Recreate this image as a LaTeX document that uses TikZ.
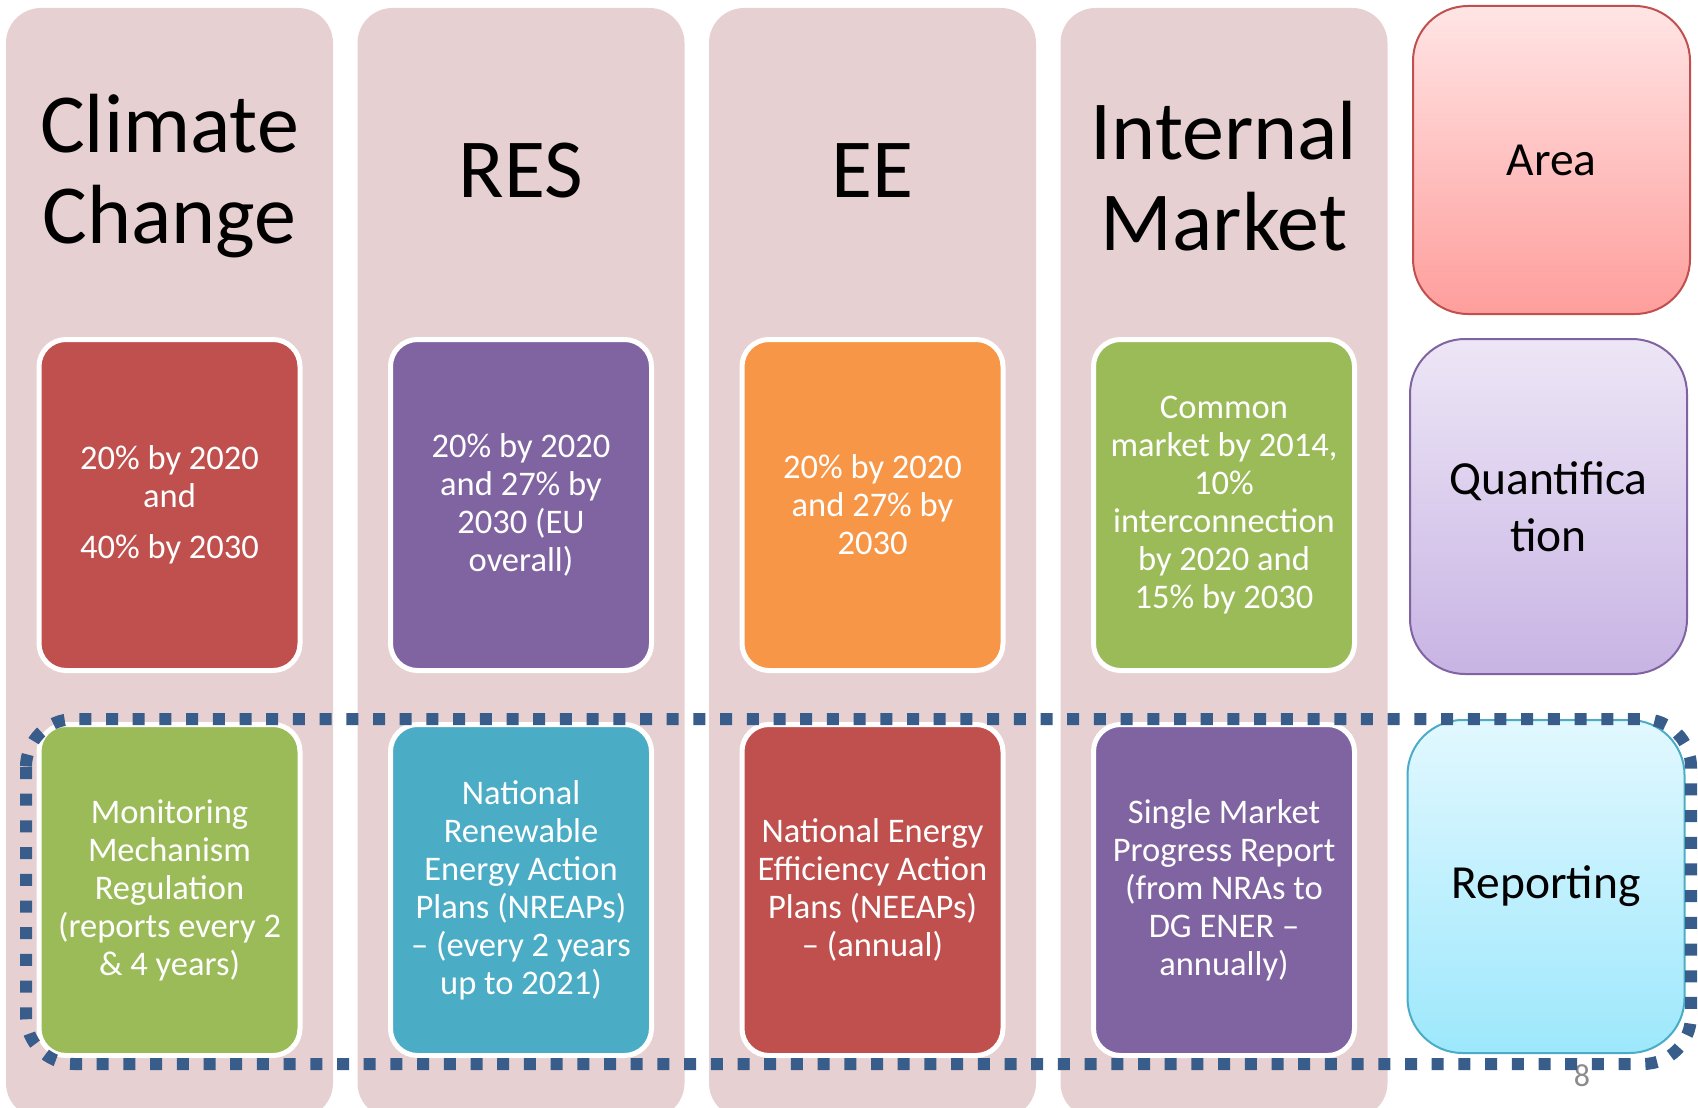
\documentclass[tikz,border=0pt]{standalone}
\usepackage{fontspec}
\setmainfont{Carlito}
\definecolor{colbg}{HTML}{E7D0D1}
\definecolor{cred}{HTML}{C0504D}
\definecolor{cpurple}{HTML}{8064A2}
\definecolor{corange}{HTML}{F79646}
\definecolor{cgreen}{HTML}{9BBB59}
\definecolor{caqua}{HTML}{4BACC6}
\definecolor{dashblue}{HTML}{385D8A}
\begin{document}
\begin{tikzpicture}[x=1pt,y=-1pt,
  colbox/.style={fill=colbg, draw=none, rounded corners=35pt, minimum width=327pt, minimum height=1110pt, inner sep=0pt},
  title/.style={align=center, font=\fontsize{84}{91}\selectfont, text=black},
  tbox/.style={draw=white, line width=5pt, rounded corners=27pt, minimum width=261pt, minimum height=331pt, inner sep=0pt, text=white, align=center, font=\fontsize{34.5}{38}\selectfont},
  legbox/.style={line width=2pt, rounded corners=55pt, minimum width=277pt, inner sep=0pt, align=center, font=\fontsize{47.5}{57}\selectfont, text=black}
]
\useasboundingbox (0,0) rectangle (1698,1108);
\begin{scope}
\clip (0,0) rectangle (1698,1108);
% columns
\node[colbox] (c1) at (169.5,563) {};
\node[colbox] (c2) at (521,563) {};
\node[colbox] (c3) at (872.5,563) {};
\node[colbox] (c4) at (1224,563) {};
\end{scope}
% titles
\node[title] (t1) at (169.5,176) {Climate\\Change};
\node[title] (t2) at (521,171) {RES};
\node[title] (t3) at (872.5,171) {EE};
\node[title] (t4) at (1224,176) {Internal\\Market};
% quantification row
\node[tbox, fill=cred] (q1) at (169.5,505) {20\% by 2020\\and\\[13pt]40\% by 2030};
\node[tbox, fill=cpurple] (q2) at (521,505) {20\% by 2020\\and 27\% by\\2030 (EU\\overall)};
\node[tbox, fill=corange] (q3) at (872.5,505) {20\% by 2020\\and 27\% by\\2030};
\node[tbox, fill=cgreen] (q4) at (1224,505) {Common\\market by 2014,\\10\%\\interconnection\\by 2020 and\\15\% by 2030};
% reporting row
\node[tbox, fill=cgreen] (r1) at (169.5,890) {Monitoring\\Mechanism\\Regulation\\(reports every 2\\\& 4 years)};
\node[tbox, fill=caqua] (r2) at (521,890) {National\\Renewable\\Energy Action\\Plans (NREAPs)\\– (every 2 years\\up to 2021)};
\node[tbox, fill=cred] (r3) at (872.5,890) {National Energy\\Efficiency Action\\Plans (NEEAPs)\\– (annual)};
\node[tbox, fill=cpurple] (r4) at (1224,890) {Single Market\\Progress Report\\(from NRAs to\\DG ENER –\\annually)};
% legend boxes
\node[legbox, draw=cred, top color={rgb,255:red,255;green,229;blue,229}, bottom color={rgb,255:red,254;green,158;blue,156}, minimum height=308pt] (area) at (1551.5,160) {Area};
\node[legbox, draw=cpurple, top color={rgb,255:red,237;green,230;blue,246}, bottom color={rgb,255:red,200;green,180;blue,228}, minimum height=335pt] (quant) at (1548.5,506.5) {Quantifica\\tion};
\node[legbox, draw=caqua, top color={rgb,255:red,226;green,248;blue,255}, bottom color={rgb,255:red,157;green,232;blue,252}, minimum height=333pt] (report) at (1546,886.5) {Reporting};
% page number
\node[text={rgb,255:red,140;green,140;blue,140}, font=\fontsize{32}{34}\selectfont] (pnum) at (1582,1076) {8};
% dashed frame
\draw[dashblue, line width=12pt, dash pattern=on 12pt off 14.7pt, rounded corners=48pt] (26,719) rectangle (1691,1064);
\end{tikzpicture}
\end{document}
